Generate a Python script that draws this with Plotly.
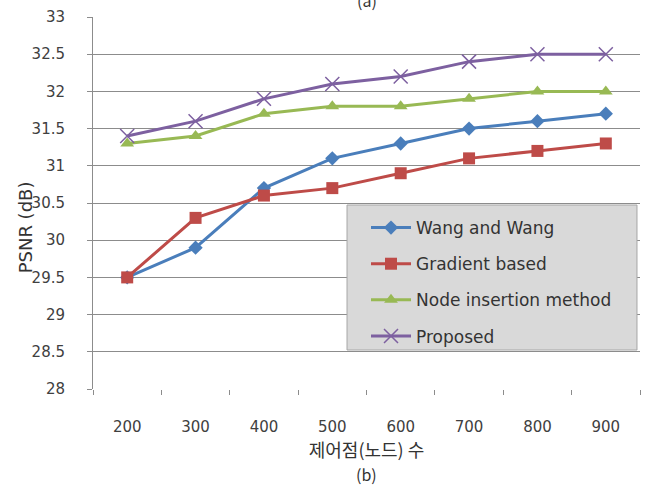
import plotly.graph_objects as go

categories = ["200", "300", "400", "500", "600", "700", "800", "900"]
wang = [29.5, 29.9, 30.7, 31.1, 31.3, 31.5, 31.6, 31.7]
gradient = [29.5, 30.3, 30.6, 30.7, 30.9, 31.1, 31.2, 31.3]
node_ins = [31.3, 31.4, 31.7, 31.8, 31.8, 31.9, 32.0, 32.0]
proposed = [31.4, 31.6, 31.9, 32.1, 32.2, 32.4, 32.5, 32.5]
y_ticks = [28, 28.5, 29, 29.5, 30, 30.5, 31, 31.5, 32, 32.5, 33]

series = [
    ("Wang and Wang", wang, "#4a7ebb", dict(symbol="diamond", size=11)),
    ("Gradient based", gradient, "#be4b48", dict(symbol="square", size=12)),
    ("Node insertion method", node_ins, "#98b954", dict(symbol="triangle-up", size=12)),
    ("Proposed", proposed, "#7d60a0", dict(symbol="x-thin-open", size=14, line=dict(width=1.5, color="#7d60a0"))),
]

fig = go.Figure()
for i, (name, vals, col, mk) in enumerate(series):
    m = dict(color=col)
    m.update(mk)
    fig.add_trace(go.Scatter(
        x=categories, y=vals, name=name, mode="lines+markers",
        line=dict(color=col, width=3), marker=m, legendgroup=f"g{i}",
    ))

font_tick = "DejaVu Sans, sans-serif"
font_kr = "Noto Sans CJK KR, sans-serif"
fig.update_layout(
    width=662, height=487,
    margin=dict(l=93, r=22, t=17, b=98),
    paper_bgcolor="white", plot_bgcolor="white",
    font=dict(family=font_tick, size=14, color="#404040"),
    showlegend=True,
    legend=dict(
        x=0.4991, y=0.481, xanchor="left", yanchor="top",
        bgcolor="rgba(0,0,0,0)", borderwidth=0,
        font=dict(family=font_tick, size=17, color="#333333"), tracegroupgap=11,
        itemwidth=40,
    ),
    shapes=[
        dict(type="rect", xref="paper", yref="paper", x0=0.4644, x1=0.9945, y0=0.1048, y1=0.4946,
             fillcolor="#d9d9d9", line=dict(color="#a6a6a6", width=1), layer="above"),
    ],
    xaxis=dict(
        type="category", range=[-0.5, 7.5], automargin=False,
        showgrid=False, showline=False, zeroline=False,
        ticks="outside", tickson="boundaries", ticklen=5, tickcolor="#8c8c8c",
        ticklabelstandoff=27,
        tickfont=dict(family=font_tick, size=15, color="#404040"),
        title=dict(text="제어점(노드) 수", standoff=8, font=dict(family=font_kr, size=18, color="#333333")),
    ),
    yaxis=dict(
        range=[28, 33], tickvals=y_ticks, automargin=False,
        ticktext=[f"{v:g}" for v in y_ticks],
        showgrid=True, gridcolor="#8c8c8c", gridwidth=1,
        showline=True, linecolor="#8c8c8c", linewidth=1,
        ticks="outside", ticklen=5, tickcolor="#8c8c8c",
        ticklabelstandoff=19,
        tickfont=dict(family=font_tick, size=15, color="#404040"),
        zeroline=False,
    ),
    annotations=[
        dict(text="PSNR (dB)", xref="paper", yref="paper", x=-0.124, y=0.435,
             xanchor="center", yanchor="middle", textangle=-90, showarrow=False,
             font=dict(family=font_tick, size=18, color="#333333")),
        dict(text="(b)", xref="paper", yref="paper", x=0.5, y=-0.2285, yanchor="middle",
             showarrow=False, font=dict(family=font_kr, size=16, color="#333333")),
        dict(text="(a)", xref="paper", yref="paper", x=0.5, y=1.045, yanchor="middle",
             showarrow=False, font=dict(family=font_kr, size=16, color="#333333")),
    ],
)

fig.write_html("out.html", config={"displayModeBar": False},
               post_script=["document.body.style.margin='0';"])
